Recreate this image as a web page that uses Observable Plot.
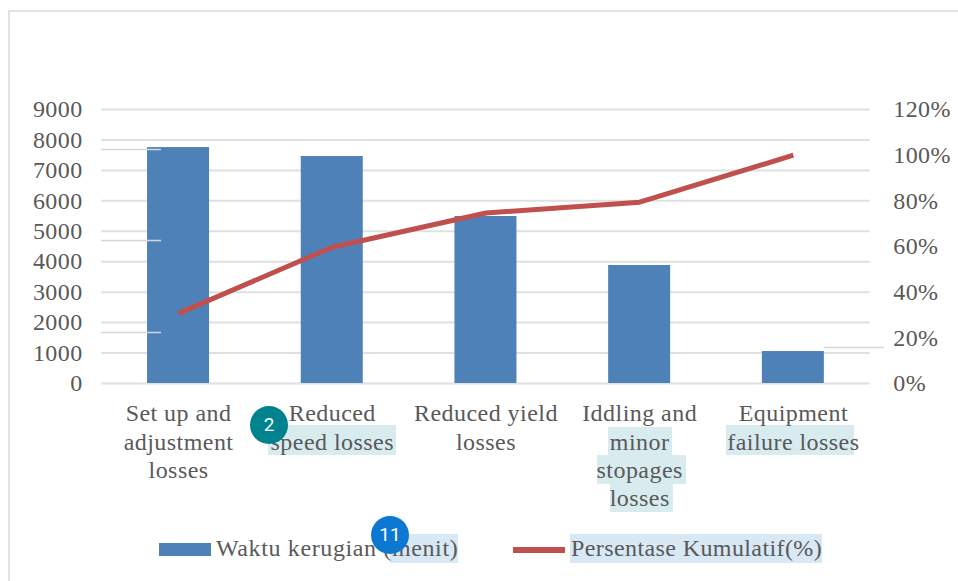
<!DOCTYPE html>
<html><head><meta charset="utf-8">
<script src="https://cdn.jsdelivr.net/npm/d3@7"></script>
<script src="https://cdn.jsdelivr.net/npm/@observablehq/plot@0.6"></script>
<style>
html,body{margin:0;padding:0;background:#fff;width:958px;height:581px;overflow:hidden;}
#stage{position:relative;width:958px;height:581px;font-family:"Liberation Serif",serif;color:#595959;}
#chart{position:absolute;left:0;top:0;}
#chart svg{background:transparent;display:block;}
.frame{position:absolute;left:8px;top:10px;right:-4px;bottom:-4px;border:2px solid #e2e2e2;}
.hl{position:absolute;}
.badge{position:absolute;width:38px;height:38px;border-radius:50%;color:#fff;font:19px/38px Roboto,sans-serif;text-align:center;z-index:5;}
.sw{position:absolute;}
.leg{position:absolute;top:534px;font-size:24px;line-height:29px;white-space:nowrap;}
</style></head>
<body><div id="stage"><div class="frame"></div><div id="under"></div><div id="chart"></div><div id="over"></div></div>
<script>
const categories = ["Set up and\nadjustment\nlosses","Reduced\nspeed losses","Reduced yield\nlosses","Iddling and\nminor\nstopages\nlosses","Equipment\nfailure losses"];
const waktu = [7750,7455,5485,3875,1050];
const kumulatif = [30.7,59.7,74.7,79.4,100];
const leftTicks = [0,1000,2000,3000,4000,5000,6000,7000,8000,9000];
const rightTicks = [0,20,40,60,80,100,120];
const strayY = [7686,4697,1675,1182];
const strayCat = [0,0,0,4];
const strayDx = [-46,-46,-46,62];
const seriesNames = ["Waktu kerugian (menit)","Persentase Kumulatif(%)"];
const badges = ["2","11"];

const toLeft = p => p * 9000 / 120;
const bars = categories.map((c,i)=>({c,v:waktu[i]}));
const line = categories.map((c,i)=>({c,v:toLeft(kumulatif[i])}));
const stray = strayY.map((y,i)=>({c:categories[strayCat[i]],y,dx:strayDx[i]}));
const font = {fontSize:24, fill:"#595959"};

const plot = Plot.plot({
  width:958,height:581,marginLeft:101.2,marginRight:88.3,marginTop:109,marginBottom:198,
  style:{background:"transparent",fontFamily:"'Liberation Serif',serif",overflow:"visible",letterSpacing:".45px"},
  x:{domain:categories,type:"band",round:false,paddingInner:0.5966,paddingOuter:0.2983,label:null},
  y:{domain:[0,9000],label:null},
  marks:[
    Plot.ruleY(leftTicks,{stroke:"#e0e0e0",strokeWidth:2}),
    Plot.barY(bars,{x:"c",y:"v",fill:"#4f81b9"}),
    Plot.line(line,{x:"c",y:"v",stroke:"#c0504d",strokeWidth:5,strokeLinecap:"butt",strokeLinejoin:"round"}),
    ...[-46,62].map(dx=>Plot.tickY(stray.filter(d=>d.dx===dx),{x:"c",y:"y",dx,stroke:"#d6d6d6",strokeWidth:1.6,insetRight:2})),
    Plot.axisY(leftTicks,{anchor:"left",tickSize:0,tickPadding:19,label:null,...font,tickFormat:d=>String(d)}),
    Plot.axisY(rightTicks.map(toLeft),{anchor:"right",tickSize:0,tickPadding:23,label:null,...font,tickFormat:d=>(d*120/9000)+"%"}),
    Plot.axisX(categories,{anchor:"bottom",tickSize:0,tickPadding:18,label:null,...font,lineHeight:1.17,tickFormat:d=>d})
  ]
});
document.getElementById("chart").appendChild(plot);

const add = (parent,cls,css,text)=>{const e=document.createElement("div");e.className=cls;e.style.cssText=css;if(text)e.textContent=text;document.getElementById(parent).appendChild(e);};
const box = (x,y,w,h,c)=>`left:${x}px;top:${y}px;width:${w}px;height:${h}px;background:${c};`;
const tealBg="#d8ebee", blueBg="#d8e8f5";
[[268,425,128,30],[726,425,128,30],[608,427,64,28],[597,455,89,29],[610,484,63,28]].forEach(r=>add("under","hl",box(...r,tealBg)));
[[390,534,68,29],[570,534,252,29]].forEach(r=>add("under","hl",box(...r,blueBg)));
add("over","sw",box(159,543,52,13,"#4f81b9"));
add("over","sw",box(513,547,52,6,"#c0504d"));
add("over","leg","left:216px;letter-spacing:.62px;",seriesNames[0]);
add("over","leg","left:571px;letter-spacing:.4px;",seriesNames[1]);
add("over","badge","left:250px;top:406px;background:#00838f;",badges[0]);
add("over","badge","left:371px;top:516px;background:#0d78d2;",badges[1]);
</script></body></html>
